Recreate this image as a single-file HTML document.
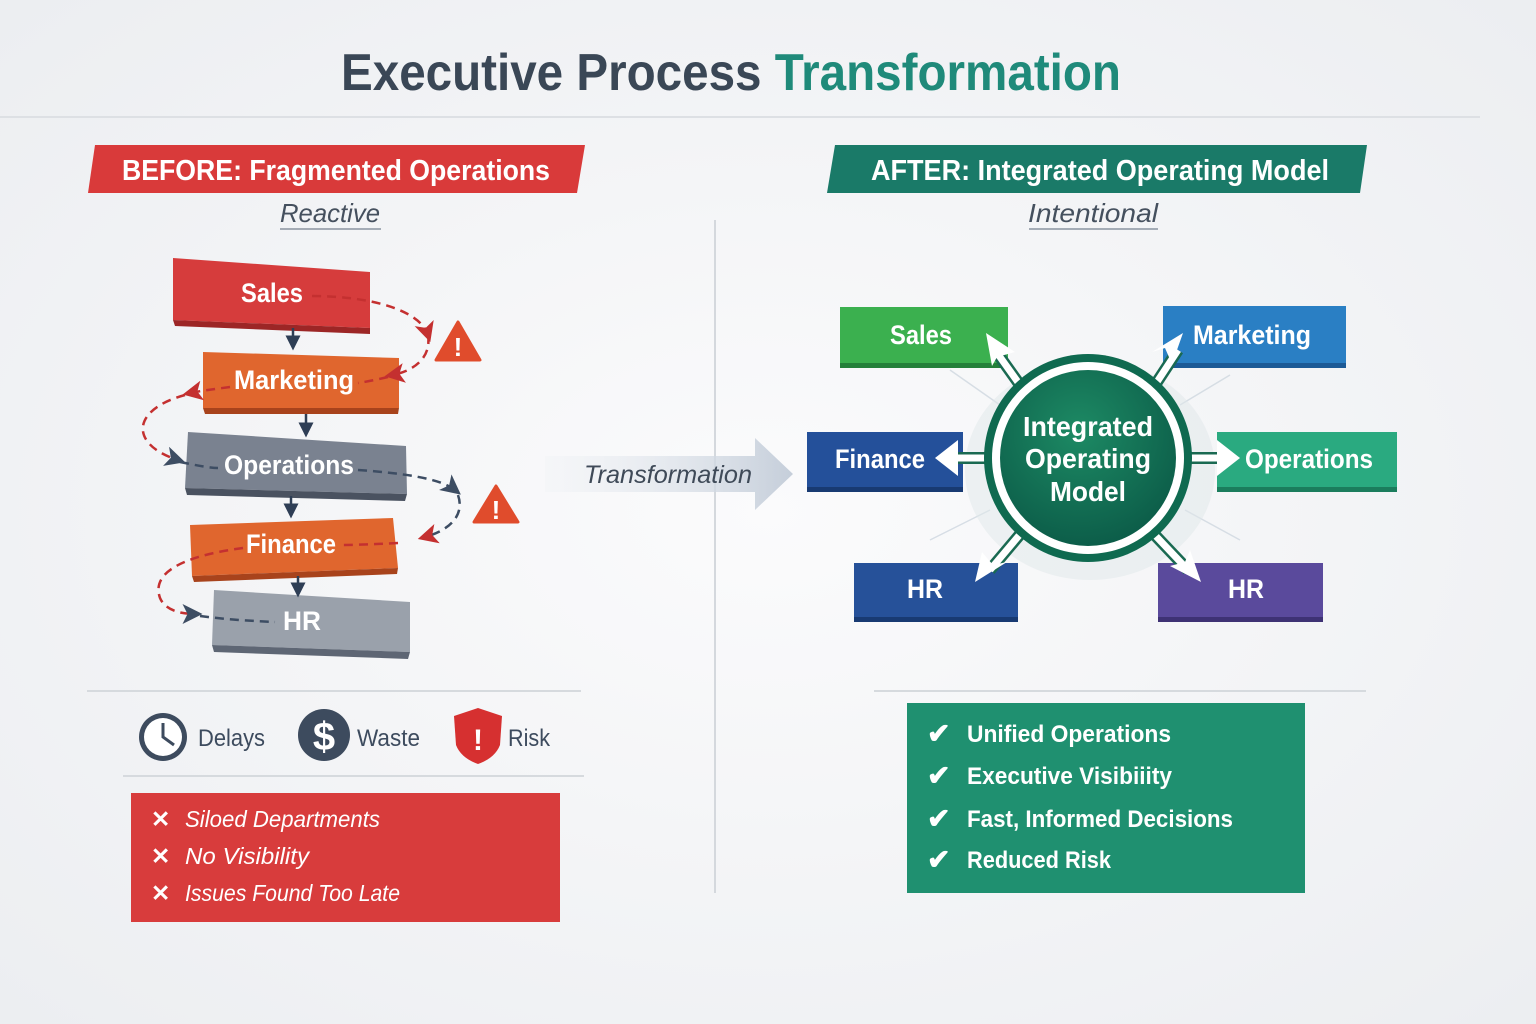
<!DOCTYPE html>
<html><head><meta charset="utf-8"><style>html,body{margin:0;padding:0;background:#f4f5f7}svg{display:block}text{font-family:"Liberation Sans",sans-serif}</style></head><body>
<svg width="1536" height="1024" viewBox="0 0 1536 1024" xmlns="http://www.w3.org/2000/svg">
<defs>
<radialGradient id="bg" cx="50%" cy="50%" r="70%"><stop offset="0" stop-color="#fbfbfc"/><stop offset="1" stop-color="#eceef1"/></radialGradient>
<linearGradient id="tr" x1="0" x2="1"><stop offset="0" stop-color="#eef1f5" stop-opacity="0.3"/><stop offset="1" stop-color="#c5ceda"/></linearGradient>
<radialGradient id="circ" cx="45%" cy="35%" r="70%"><stop offset="0" stop-color="#1d8a64"/><stop offset="1" stop-color="#0b5a47"/></radialGradient>
<marker id="ar" markerWidth="8" markerHeight="8" refX="5" refY="4" orient="auto"><path d="M0,0 L8,4 L0,8 L2,4z" fill="#c43030"/></marker>
<marker id="an" markerWidth="8" markerHeight="8" refX="5" refY="4" orient="auto"><path d="M0,0 L8,4 L0,8 L2,4z" fill="#3d4d63"/></marker>
<marker id="ad" markerWidth="6" markerHeight="6" refX="3" refY="3" orient="auto"><path d="M0,0 L6,3 L0,6z" fill="#2e3e55"/></marker>
</defs>
<rect width="1536" height="1024" fill="url(#bg)"/>
<text x="731" y="90" text-anchor="middle" font-size="52" font-weight="bold" fill="#3a4756" textLength="780" lengthAdjust="spacingAndGlyphs">Executive Process <tspan fill="#1f8a7a">Transformation</tspan></text>
<line x1="0" y1="117" x2="1480" y2="117" stroke="#dde0e4" stroke-width="2"/>

<polygon points="95,145 585,145 577,193 88,193" fill="#d93a3a"/>
<text x="336" y="180" text-anchor="middle" font-size="29" font-weight="bold" fill="#fff" textLength="428" lengthAdjust="spacingAndGlyphs">BEFORE: Fragmented Operations</text>
<text x="330" y="222" text-anchor="middle" font-size="26" font-style="italic" fill="#45505e" textLength="100" lengthAdjust="spacingAndGlyphs">Reactive</text>
<line x1="280" y1="229" x2="381" y2="229" stroke="#8a93a0" stroke-width="1.5"/>
<polygon points="835,145 1367,145 1360,193 827,193" fill="#1a7a68"/>
<text x="1100" y="180" text-anchor="middle" font-size="29" font-weight="bold" fill="#fff" textLength="458" lengthAdjust="spacingAndGlyphs">AFTER: Integrated Operating Model</text>
<text x="1093" y="222" text-anchor="middle" font-size="26" font-style="italic" fill="#45505e" textLength="130" lengthAdjust="spacingAndGlyphs">Intentional</text>
<line x1="1029" y1="229" x2="1158" y2="229" stroke="#8a93a0" stroke-width="1.5"/>
<line x1="715" y1="220" x2="715" y2="893" stroke="#d4d8dd" stroke-width="2"/>

<g>
<polygon points="173,258 370,272 370,328 173,320" fill="#d63c3c"/><polygon points="173,320 370,328 370,334 175,326" fill="#9c2626"/>
<polygon points="203,352 399,358 399,408 203,408" fill="#e0662e"/><polygon points="203,408 399,408 398,414 205,414" fill="#a8431c"/>
<polygon points="188,432 406,446 407,494 185,488" fill="#7a8290"/><polygon points="185,488 407,494 405,501 187,495" fill="#4a5260"/>
<polygon points="190,525 393,518 398,568 192,576" fill="#e0662e"/><polygon points="192,576 398,568 397,574 194,582" fill="#a8431c"/>
<polygon points="214,590 410,602 410,652 212,645" fill="#9aa1ab"/><polygon points="212,645 410,652 408,659 214,652" fill="#5e6674"/>
<g font-size="27" font-weight="bold" fill="#fff" text-anchor="middle">
<text x="272" y="302" textLength="62" lengthAdjust="spacingAndGlyphs">Sales</text>
<text x="294" y="389" textLength="120" lengthAdjust="spacingAndGlyphs">Marketing</text>
<text x="289" y="474" textLength="130" lengthAdjust="spacingAndGlyphs">Operations</text>
<text x="291" y="553" textLength="90" lengthAdjust="spacingAndGlyphs">Finance</text>
<text x="302" y="630" textLength="38" lengthAdjust="spacingAndGlyphs">HR</text>
</g>
<g stroke="#2e3e55" stroke-width="2.5" marker-end="url(#ad)">
<line x1="293" y1="328" x2="293" y2="343"/><line x1="306" y1="414" x2="306" y2="430"/><line x1="291" y1="496" x2="291" y2="511"/><line x1="298" y1="576" x2="298" y2="590"/></g>
<g fill="none" stroke-width="2.5" stroke-dasharray="9,6">
<path d="M312,296 C370,296 420,310 428,335" stroke="#c43030" marker-end="url(#ar)"/>
<path d="M428,335 C432,360 410,372 392,375" stroke="#c43030" marker-end="url(#ar)"/>
<path d="M388,377 C375,380 365,382 358,383" stroke="#c43030"/>
<path d="M230,387 C215,389 200,391 190,393" stroke="#c43030" marker-end="url(#ar)"/>
<path d="M185,395 C130,410 130,445 178,460" stroke="#c43030" marker-end="url(#an)"/>
<path d="M180,462 C200,466 210,468 218,468" stroke="#3d4d63"/>
<path d="M358,470 C400,473 440,478 455,490" stroke="#3d4d63" marker-end="url(#an)"/>
<path d="M458,495 C465,515 450,530 425,537" stroke="#3d4d63" marker-end="url(#ar)"/>
<path d="M398,543 C360,545 345,545 340,545" stroke="#c43030"/>
<path d="M243,548 C190,555 150,570 160,598 C165,610 180,614 195,614" stroke="#c43030" marker-end="url(#an)"/>
<path d="M200,616 C230,620 255,621 275,622" stroke="#3d4d63"/>
</g>
<g><polygon points="458,322 480,360 436,360" fill="#e04c2c" stroke="#e04c2c" stroke-width="3" stroke-linejoin="round"/><text x="458" y="356" text-anchor="middle" font-size="26" font-weight="bold" fill="#fff">!</text></g>
<g><polygon points="496,486 518,522 474,522" fill="#e04c2c" stroke="#e04c2c" stroke-width="3" stroke-linejoin="round"/><text x="496" y="519" text-anchor="middle" font-size="26" font-weight="bold" fill="#fff">!</text></g>
</g>

<polygon points="545,456 755,456 755,438 793,474 755,510 755,492 545,492" fill="url(#tr)"/>
<text x="668" y="483" text-anchor="middle" font-size="25" font-style="italic" fill="#3f4a58" textLength="168" lengthAdjust="spacingAndGlyphs">Transformation</text>

<g stroke="#cfd8e0" stroke-width="1.5" opacity="0.8">
<line x1="950" y1="370" x2="1000" y2="405"/><line x1="1230" y1="375" x2="1180" y2="405"/><line x1="930" y1="540" x2="990" y2="510"/><line x1="1240" y1="540" x2="1185" y2="510"/></g>
<ellipse cx="1090" cy="470" rx="125" ry="110" fill="#dfe7ea" opacity="0.5"/>
<g>
<rect x="840" y="307" width="168" height="56" fill="#3bb04f"/><rect x="840" y="363" width="168" height="5" fill="#24803a"/>
<rect x="1163" y="306" width="183" height="57" fill="#2a7fc4"/><rect x="1163" y="363" width="183" height="5" fill="#1c5a96"/>
<rect x="807" y="432" width="156" height="55" fill="#24509a"/><rect x="807" y="487" width="156" height="5" fill="#183a72"/>
<rect x="1217" y="432" width="180" height="55" fill="#2aaa80"/><rect x="1217" y="487" width="180" height="5" fill="#1b7d5d"/>
<rect x="854" y="563" width="164" height="54" fill="#265199"/><rect x="854" y="617" width="164" height="5" fill="#183a72"/>
<rect x="1158" y="563" width="165" height="54" fill="#5a4a9c"/><rect x="1158" y="617" width="165" height="5" fill="#3e3274"/>
<g font-size="27" font-weight="bold" fill="#fff" text-anchor="middle">
<text x="921" y="344" textLength="62" lengthAdjust="spacingAndGlyphs">Sales</text>
<text x="1252" y="344" textLength="118" lengthAdjust="spacingAndGlyphs">Marketing</text>
<text x="880" y="468" textLength="90" lengthAdjust="spacingAndGlyphs">Finance</text>
<text x="1309" y="468" textLength="128" lengthAdjust="spacingAndGlyphs">Operations</text>
<text x="925" y="598" textLength="36" lengthAdjust="spacingAndGlyphs">HR</text>
<text x="1246" y="598" textLength="36" lengthAdjust="spacingAndGlyphs">HR</text>
</g>
</g>
<g stroke="#1a6a52" stroke-width="12"><line x1="1020" y1="385" x2="995" y2="350"/><line x1="1155" y1="385" x2="1178" y2="350"/><line x1="990" y1="458" x2="955" y2="458"/><line x1="1186" y1="458" x2="1222" y2="458"/><line x1="1022" y1="532" x2="990" y2="570"/><line x1="1152" y1="532" x2="1188" y2="570"/></g>
<g stroke="#fff" stroke-width="7"><line x1="1020" y1="385" x2="995" y2="350"/><line x1="1155" y1="385" x2="1178" y2="350"/><line x1="990" y1="458" x2="955" y2="458"/><line x1="1186" y1="458" x2="1222" y2="458"/><line x1="1022" y1="532" x2="990" y2="570"/><line x1="1152" y1="532" x2="1188" y2="570"/></g>
<g fill="#fff">
<polygon points="986,333 1015,352 997,357 992,366"/>
<polygon points="1183,333 1172,364 1165,348 1152,352"/>
<polygon points="935,458 958,440 958,476"/>
<polygon points="1240,458 1217,440 1217,476"/>
<polygon points="975,582 982,552 993,565 1007,562"/>
<polygon points="1201,582 1170,566 1185,562 1190,550"/>
</g>
<circle cx="1088" cy="458" r="104" fill="#0f6a50"/>
<circle cx="1088" cy="458" r="96" fill="#fff"/>
<circle cx="1088" cy="458" r="88" fill="url(#circ)"/>
<g font-size="28" font-weight="bold" fill="#fff" text-anchor="middle">
<text x="1088" y="436" textLength="130" lengthAdjust="spacingAndGlyphs">Integrated</text>
<text x="1088" y="468" textLength="126" lengthAdjust="spacingAndGlyphs">Operating</text>
<text x="1088" y="501" textLength="76" lengthAdjust="spacingAndGlyphs">Model</text>
</g>

<line x1="87" y1="691" x2="581" y2="691" stroke="#d6dade" stroke-width="2"/>
<line x1="123" y1="776" x2="584" y2="776" stroke="#d6dade" stroke-width="2"/>
<line x1="874" y1="691" x2="1366" y2="691" stroke="#d6dade" stroke-width="2"/>

<circle cx="163" cy="737" r="24" fill="#3d4b5e"/><circle cx="163" cy="737" r="19" fill="#fff"/>
<path d="M163,723 L163,737 L174,745" stroke="#3d4b5e" stroke-width="3" fill="none"/>
<text x="198" y="746" font-size="24" fill="#3d4b5e" textLength="67" lengthAdjust="spacingAndGlyphs">Delays</text>
<circle cx="324" cy="735" r="26" fill="#3d4b5e"/>
<text x="324" y="750" text-anchor="middle" font-size="40" font-weight="bold" fill="#fff">$</text>
<text x="357" y="746" font-size="24" fill="#3d4b5e" textLength="63" lengthAdjust="spacingAndGlyphs">Waste</text>
<path d="M478,708 L502,716 L500,745 Q495,758 478,764 Q461,758 456,745 L454,716Z" fill="#d63030"/>
<text x="478" y="750" text-anchor="middle" font-size="30" font-weight="bold" fill="#fff">!</text>
<text x="508" y="746" font-size="24" fill="#3d4b5e" textLength="42" lengthAdjust="spacingAndGlyphs">Risk</text>

<rect x="131" y="793" width="429" height="129" fill="#d83c3c"/>
<g font-size="23" font-style="italic" fill="#fff">
<text x="151" y="827" font-weight="bold" font-style="normal">✕</text><text x="185" y="827" textLength="195" lengthAdjust="spacingAndGlyphs">Siloed Departments</text>
<text x="151" y="864" font-weight="bold" font-style="normal">✕</text><text x="185" y="864" textLength="124" lengthAdjust="spacingAndGlyphs">No Visibility</text>
<text x="151" y="901" font-weight="bold" font-style="normal">✕</text><text x="185" y="901" textLength="215" lengthAdjust="spacingAndGlyphs">Issues Found Too Late</text>
</g>

<rect x="907" y="703" width="398" height="190" fill="#1f9070"/>
<g font-size="24" fill="#fff" font-weight="bold">
<text x="927" y="743" font-size="28">✔</text><text x="967" y="742" textLength="204" lengthAdjust="spacingAndGlyphs">Unified Operations</text>
<text x="927" y="785" font-size="28">✔</text><text x="967" y="784" textLength="205" lengthAdjust="spacingAndGlyphs">Executive Visibiiity</text>
<text x="927" y="828" font-size="28">✔</text><text x="967" y="827" textLength="266" lengthAdjust="spacingAndGlyphs">Fast, Informed Decisions</text>
<text x="927" y="869" font-size="28">✔</text><text x="967" y="868" textLength="144" lengthAdjust="spacingAndGlyphs">Reduced Risk</text>
</g>
</svg>
</body></html>
